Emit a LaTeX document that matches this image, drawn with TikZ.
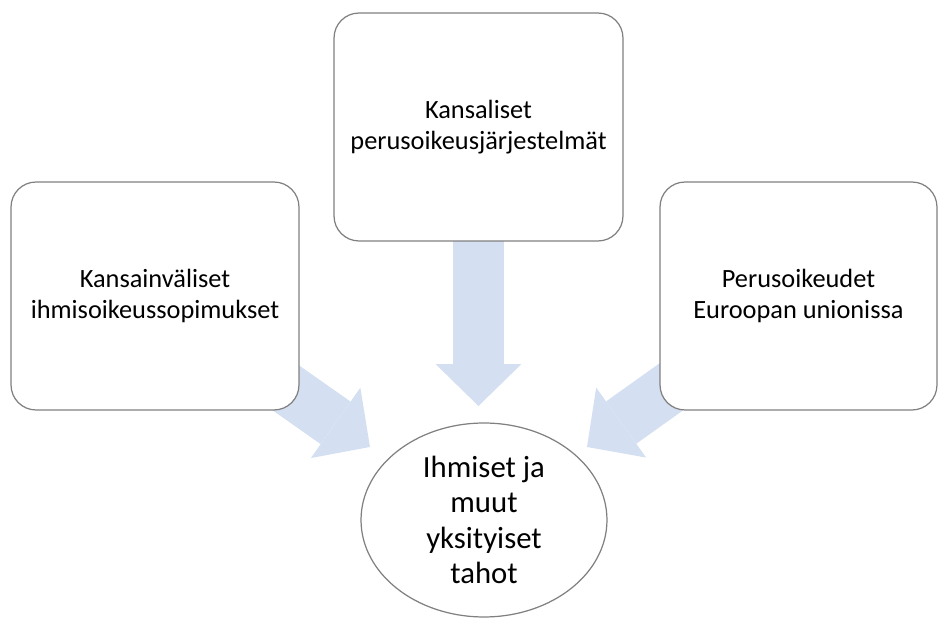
\documentclass[tikz,border=0pt]{standalone}
\usepackage{fontspec}
\setmainfont{Carlito}
\usepackage{tikz}
\usetikzlibrary{shapes, arrows.meta, positioning, backgrounds}
\definecolor{arrowblue}{RGB}{212,224,241}
\definecolor{framegray}{RGB}{128,128,128}
\tikzstyle{source}=[shape=rectangle,rounded corners=0.5cm,draw=framegray,line width=0.7pt,fill=white,align=center,minimum height=4.56cm,font=\fontsize{15}{18}\selectfont]
\tikzstyle{target}=[shape=ellipse,draw=framegray,line width=0.7pt,fill=white,align=center,minimum width=4.92cm,minimum height=3.88cm,inner sep=0pt,font=\fontsize{17.5}{20}\selectfont]
\tikzstyle{bigarrow}=[line width=1.04cm,draw=arrowblue,-{Triangle[length=0.84cm,width=1.72cm,line width=0pt]}]

\begin{document}
\begin{tikzpicture}[x=0.02cm,y=-0.02cm]
\useasboundingbox (0,0) rectangle (938,621);

% sources
\node[source,minimum width=5.76cm] (intl) at (155,296) {Kansainväliset\\ihmisoikeussopimukset};
\node[source,minimum width=5.78cm] (natl) at (478.5,127) {Kansaliset\\perusoikeusjärjestelmät};
\node[source,minimum width=5.54cm] (eu)   at (798.5,296) {Perusoikeudet\\Euroopan unionissa};

% target
\node[target] (people) at (484,520) {Ihmiset ja\\muut\\yksityiset\\tahot};

% arrow tips
\coordinate (tip_l) at (370,447);
\coordinate (tip_m) at (478.5,406);
\coordinate (tip_r) at (587,447);

\begin{scope}[on background layer]
\draw[bigarrow] (intl.center) -- (tip_l);
\draw[bigarrow] (natl.center) -- (tip_m);
\draw[bigarrow] (eu.center) -- (tip_r);
\end{scope}

\end{tikzpicture}
\end{document}
